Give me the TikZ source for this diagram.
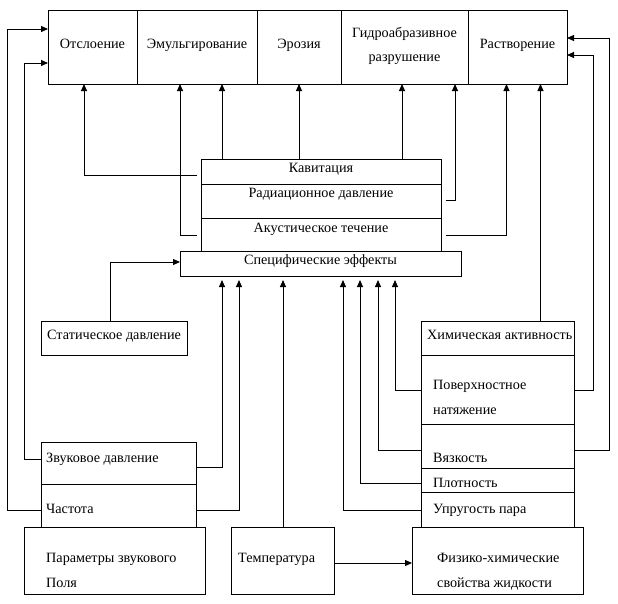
\documentclass[tikz,border=0pt]{standalone}
\usepackage{fontspec}
\setmainfont{Liberation Serif}
\usetikzlibrary{arrows.meta,calc}
\begin{document}
\begin{tikzpicture}[x=1pt,y=-1pt,
  box/.style={draw, line width=1pt, inner sep=0pt, outer sep=0pt, anchor=north west},
  txt/.style={inner sep=0pt, text height=0.7em, text depth=0.25em, font=\fontsize{14.2}{16}\selectfont, yshift=-2.5pt},
  ltxt/.style={txt, anchor=west},
  arr/.style={line width=1pt, -{Triangle[length=7pt,width=6pt]}}]
\useasboundingbox[fill=white] (0,0) rectangle (618,603);
% top row
\node[box, minimum width=89pt, minimum height=74pt] (otsl) at (48,10) {};
\node[box, minimum width=120pt, minimum height=74pt] (emul) at (137,10) {};
\node[box, minimum width=84pt, minimum height=74pt] (eroz) at (257,10) {};
\node[box, minimum width=127pt, minimum height=74pt] (gidro) at (341,10) {};
\node[box, minimum width=99pt, minimum height=74pt] (rastv) at (468,10) {};
% effects stack
\node[box, minimum width=240.5pt, minimum height=25pt] (kav) at (201,159) {};
\node[box, minimum width=240.5pt, minimum height=34pt] (rad) at (201,184) {};
\node[box, minimum width=240.5pt, minimum height=33pt] (akust) at (201,218) {};
\node[box, minimum width=281pt, minimum height=25pt] (spec) at (180,251) {};
% left
\node[box, minimum width=146pt, minimum height=34pt] (stat) at (41,321) {};
\node[box, minimum width=155pt, minimum height=42pt] (zvuk) at (41,442) {};
\node[box, minimum width=155pt, minimum height=43pt] (chast) at (41,484) {};
\node[box, minimum width=181pt, minimum height=67pt] (param) at (24,527) {};
\node[box, minimum width=103pt, minimum height=67pt] (temp) at (231,527) {};
% right
\node[box, minimum width=153pt, minimum height=34pt] (chem) at (421,321) {};
\node[box, minimum width=153pt, minimum height=69pt] (pov) at (421,355) {};
\node[box, minimum width=153pt, minimum height=44pt] (vyaz) at (421,424) {};
\node[box, minimum width=153pt, minimum height=24pt] (plot) at (421,468) {};
\node[box, minimum width=153pt, minimum height=35pt] (upr) at (421,492) {};
\node[box, minimum width=171pt, minimum height=67pt] (fiz) at (412,527) {};
% texts
\node[txt] (totsl) at (92.5,44) {Отслоение};
\node[txt] (temul) at (197,44) {Эмульгирование};
\node[txt] (teroz) at (299,44) {Эрозия};
\node[txt] (tgidroa) at (404.5,33) {Гидроабразивное};
\node[txt] (tgidrob) at (404.5,57) {разрушение};
\node[txt] (trastv) at (517.5,44) {Растворение};
\node[txt] (tkav) at (321,168) {Кавитация};
\node[txt] (trad) at (321,193) {Радиационное давление};
\node[txt] (takust) at (321,228) {Акустическое течение};
\node[txt] (tspec) at (320.5,260) {Специфические эффекты};
\node[ltxt] (tstat) at (47,335) {Статическое давление};
\node[ltxt] (tzvuk) at (46,458) {Звуковое давление};
\node[ltxt] (tchast) at (46,509) {Частота};
\node[ltxt] (tparama) at (46,558) {Параметры звукового};
\node[ltxt] (tparamb) at (46,583) {Поля};
\node[ltxt] (ttemp) at (238,558) {Температура};
\node[ltxt] (tchem) at (427,335) {Химическая активность};
\node[ltxt] (tpova) at (433,385) {Поверхностное};
\node[ltxt] (tpovb) at (433,410) {натяжение};
\node[ltxt] (tvyaz) at (433,458) {Вязкость};
\node[ltxt] (tplot) at (433,483) {Плотность};
\node[ltxt] (tupr) at (433,509) {Упругость пара};
\node[ltxt] (tfiza) at (437,558) {Физико-химические};
\node[ltxt] (tfizb) at (437,583) {свойства жидкости};
% connectors to top row
\coordinate (k1) at ($(kav.north west)+(-4,16)$);
\draw[arr] (k1) -| ($(otsl.south west)+(36,0)$);
\coordinate (a1) at ($(akust.north west)+(-4,17)$);
\draw[arr] (a1) -| ($(emul.south west)+(43,0)$);
\coordinate (k2) at ($(kav.north west)+(21,0)$);
\draw[arr] (k2) -- (k2 |- emul.south);
\coordinate (k3) at ($(kav.north west)+(98,0)$);
\draw[arr] (k3) -- (k3 |- eroz.south);
\coordinate (k4) at ($(kav.north west)+(201,0)$);
\draw[arr] (k4) -- (k4 |- gidro.south);
\coordinate (r1) at ($(rad.north east)+(4,16)$);
\draw[arr] (r1) -| ($(gidro.south west)+(114,0)$);
\coordinate (a2) at ($(akust.north east)+(4,17)$);
\draw[arr] (a2) -| ($(rastv.south west)+(38.5,0)$);
\coordinate (c1) at ($(chem.north west)+(119.5,0)$);
\draw[arr] (c1) -- (c1 |- rastv.south);
% side feedback
\coordinate (ch1) at ($(chast.north west)+(0,26)$);
\draw[arr] (ch1) -- ++(-34,0) |- ($(otsl.north west)+(0,19)$);
\coordinate (z1) at ($(zvuk.north west)+(0,17)$);
\draw[arr] (z1) -- ++(-17,0) |- ($(otsl.north west)+(0,53)$);
\coordinate (v1) at ($(vyaz.north east)+(0,26)$);
\draw[arr] (v1) -- ++(35,0) |- ($(rastv.north east)+(0,28)$);
\coordinate (p1) at ($(pov.north east)+(0,35)$);
\draw[arr] (p1) -- ++(19,0) |- ($(rastv.north east)+(0,45)$);
% into specific effects
\coordinate (s0) at ($(stat.north west)+(69,0)$);
\draw[arr] (s0) |- ($(spec.north west)+(0,11)$);
\coordinate (z2) at ($(zvuk.north east)+(0,25)$);
\draw[arr] (z2) -| ($(spec.south west)+(42,4)$);
\coordinate (ch2) at ($(chast.north east)+(0,26)$);
\draw[arr] (ch2) -| ($(spec.south west)+(59,4)$);
\coordinate (t1) at ($(temp.north west)+(52,0)$);
\draw[arr] (t1) -- ($(spec.south west)+(103,4)$);
\coordinate (u1) at ($(upr.north west)+(0,18)$);
\draw[arr] (u1) -| ($(spec.south west)+(163,4)$);
\coordinate (pl1) at ($(plot.north west)+(0,15)$);
\draw[arr] (pl1) -| ($(spec.south west)+(180,4)$);
\coordinate (v2) at ($(vyaz.north west)+(0,26)$);
\draw[arr] (v2) -| ($(spec.south west)+(198,4)$);
\coordinate (p2) at ($(pov.north west)+(0,35)$);
\draw[arr] (p2) -| ($(spec.south west)+(215,4)$);
\coordinate (t2) at ($(temp.north east)+(0,36)$);
\draw[arr] (t2) -- (t2 -| fiz.west);
\end{tikzpicture}
\end{document}
